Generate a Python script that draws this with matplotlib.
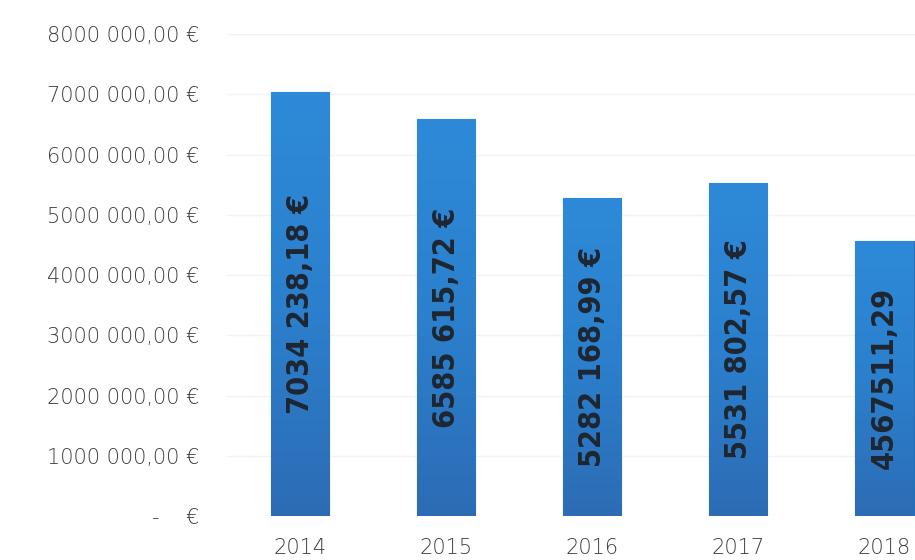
import numpy as np
import matplotlib
matplotlib.use("Agg")
from matplotlib import pyplot as plt
from matplotlib.ticker import FuncFormatter

years = ["2014", "2015", "2016", "2017", "2018"]
amounts = [7034238.18, 6585615.72, 5282168.99, 5531802.57, 4567511.29]
bar_labels = ["7034 238,18 €", "6585 615,72 €", "5282 168,99 €",
              "5531 802,57 €", "4567511,29"]
yticks = [0, 1e6, 2e6, 3e6, 4e6, 5e6, 6e6, 7e6, 8e6]

plt.rcParams["font.family"] = ["DejaVu Sans"]


def money(v, pos):
    # format "7000 000,00 €", zero shown as a dash
    if v == 0:
        return "-    €"
    m = int(v // 1e6)
    rest = int(v % 1e6)
    return "%d%03d %03d,00 €" % (m, rest // 1000, rest % 1000)


fig = plt.figure(figsize=(9.15, 5.6), dpi=100)
ax = fig.add_axes([227 / 915, 44 / 560, 688 / 915, 482 / 560])

x = np.arange(len(years))
bars = ax.bar(x, amounts, width=0.4, color="#2b82d0", edgecolor="#2470b8",
              linewidth=0.8, zorder=3)

# simple vertical gradient on each bar
grad = np.linspace(0, 1, 256).reshape(-1, 1)
cmap = matplotlib.colors.LinearSegmentedColormap.from_list(
    "b", ["#2d6cb5", "#2b80cd", "#2e8ad8"])
for b in bars:
    x0, y0 = b.get_x(), b.get_y()
    im = ax.imshow(grad, cmap=cmap, aspect="auto", origin="lower",
                   extent=[x0, x0 + b.get_width(), y0, y0 + b.get_height()],
                   zorder=3.5)
    im.set_clip_path(b)

for xi, v, lab in zip(x, amounts, bar_labels):
    ax.text(xi, v / 2, lab, rotation=90, ha="center", va="center",
            fontsize=22, fontweight="bold", fontstretch="condensed",
            color="#1e2630", zorder=5)

ax.set_xlim(-0.5, 4.21)
ax.set_ylim(0, 8e6)
ax.set_yticks(yticks)
ax.yaxis.set_major_formatter(FuncFormatter(money))
ax.set_xticks(x)
ax.set_xticklabels(years)
ax.tick_params(axis="y", length=0, pad=20, labelsize=15, labelcolor="#3c3c3c")
ax.tick_params(axis="x", length=0, pad=16, labelsize=15, labelcolor="#3c3c3c")
for t in ax.get_yticklabels() + ax.get_xticklabels():
    t.set_fontweight("light")
ax.grid(axis="y", color="#f3f3f3", linewidth=1, zorder=0)
for s in ax.spines.values():
    s.set_visible(False)

fig.savefig("out.png", dpi=100)
